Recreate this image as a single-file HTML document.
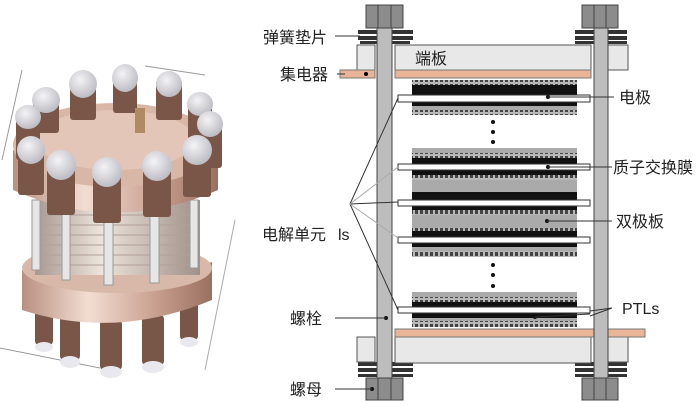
<!DOCTYPE html>
<html><head><meta charset="utf-8"><style>
html,body{margin:0;padding:0;background:#fff;}
svg{display:block;}
text{font-family:"Liberation Sans","Noto Sans CJK SC",sans-serif;fill:#222;}
</style></head><body>
<svg width="700" height="405" viewBox="0 0 700 405" xmlns="http://www.w3.org/2000/svg">
<defs>
<pattern id="rid" width="5" height="6" patternUnits="userSpaceOnUse">
<rect width="5" height="6" fill="#b8b8b8"/><rect x="0" y="0" width="3" height="4" fill="#444"/>
</pattern>
<linearGradient id="cu" x1="0" x2="1" y1="0" y2="0">
<stop offset="0" stop-color="#b89080"/><stop offset="0.35" stop-color="#f3ddd2"/><stop offset="0.7" stop-color="#c9a090"/><stop offset="1" stop-color="#9a7060"/>
</linearGradient>
<linearGradient id="stk" x1="0" x2="1"><stop offset="0" stop-color="#a89890"/><stop offset="0.4" stop-color="#ece4dc"/><stop offset="1" stop-color="#a09088"/></linearGradient>
<radialGradient id="cap" cx="0.4" cy="0.35" r="0.7"><stop offset="0" stop-color="#f4f4f6"/><stop offset="1" stop-color="#b8b8c0"/></radialGradient>
</defs>

<g>
<line x1="22" y1="70" x2="2" y2="160" stroke="#999" stroke-width="1"/>
<line x1="145" y1="66" x2="205" y2="75" stroke="#999"/>
<line x1="0" y1="348" x2="100" y2="368" stroke="#999"/>
<line x1="235" y1="220" x2="205" y2="370" stroke="#aaa"/>
<g fill="#7a5648">
<rect x="35" y="300" width="18" height="45" rx="4"/><rect x="60" y="315" width="20" height="45" rx="4"/>
<rect x="100" y="320" width="22" height="50" rx="4"/><rect x="142" y="315" width="22" height="50" rx="4"/>
<rect x="180" y="300" width="18" height="40" rx="4"/>
</g>
<g fill="#e8e8ee"><ellipse cx="44" cy="347" rx="9" ry="5"/><ellipse cx="70" cy="362" rx="10" ry="6"/><ellipse cx="111" cy="372" rx="11" ry="6"/><ellipse cx="153" cy="367" rx="11" ry="6"/><ellipse cx="189" cy="342" rx="9" ry="5"/></g>
<path d="M22 270 Q115 300 212 262 L212 300 Q115 340 22 310 Z" fill="url(#cu)"/>
<ellipse cx="117" cy="268" rx="95" ry="25" fill="#d8b8a8"/>
<rect x="35" y="200" width="165" height="75" fill="url(#stk)"/>
<g stroke="#b0a098" stroke-width="1">
<line x1="40" y1="215" x2="195" y2="215"/><line x1="40" y1="225" x2="195" y2="225"/><line x1="40" y1="235" x2="195" y2="235"/><line x1="40" y1="245" x2="195" y2="245"/><line x1="40" y1="255" x2="195" y2="255"/><line x1="40" y1="265" x2="195" y2="265"/></g>
<g fill="#e6e6e6" stroke="#999"><rect x="32" y="200" width="8" height="70"/><rect x="62" y="205" width="8" height="75"/><rect x="104" y="210" width="9" height="75"/><rect x="150" y="208" width="9" height="75"/><rect x="190" y="200" width="8" height="68"/></g>
<path d="M13 150 Q115 195 218 150 L218 190 Q115 235 13 190 Z" fill="url(#cu)"/>
<ellipse cx="115" cy="145" rx="102" ry="42" fill="#d9b7a6"/>
<ellipse cx="115" cy="140" rx="80" ry="30" fill="#e4c6b8"/>
<g fill="#7a5648">
<rect x="33" y="95" width="26" height="38" rx="3"/><rect x="70" y="80" width="26" height="40" rx="3"/><rect x="113" y="75" width="24" height="38" rx="3"/><rect x="156" y="80" width="26" height="40" rx="3"/><rect x="188" y="100" width="24" height="40" rx="3"/>
<rect x="16" y="110" width="24" height="50" rx="3"/><rect x="200" y="118" width="22" height="50" rx="3"/>
<rect x="18" y="145" width="26" height="50" rx="3"/><rect x="47" y="160" width="28" height="55" rx="3"/><rect x="93" y="168" width="28" height="55" rx="3"/><rect x="143" y="162" width="28" height="55" rx="3"/><rect x="183" y="145" width="28" height="52" rx="3"/>
</g>
<g fill="url(#cap)">
<ellipse cx="46" cy="100" rx="14" ry="13"/><ellipse cx="83" cy="84" rx="14" ry="14"/><ellipse cx="125" cy="78" rx="13" ry="14"/><ellipse cx="169" cy="84" rx="13" ry="13"/><ellipse cx="200" cy="104" rx="13" ry="12"/>
<ellipse cx="28" cy="117" rx="13" ry="12"/><ellipse cx="210" cy="124" rx="13" ry="13"/>
<ellipse cx="31" cy="150" rx="14" ry="14"/><ellipse cx="61" cy="165" rx="15" ry="15"/><ellipse cx="107" cy="172" rx="15" ry="15"/><ellipse cx="157" cy="166" rx="15" ry="15"/><ellipse cx="197" cy="150" rx="15" ry="15"/>
</g>
<rect x="135" y="108" width="10" height="25" fill="#b08a60"/>
</g>

<g stroke="#444" stroke-width="1">
<rect x="366" y="5" width="37" height="23" fill="#8c8c8c"/><line x1="378" y1="5" x2="378" y2="28"/><line x1="391" y1="5" x2="391" y2="28"/>
<rect x="582" y="5" width="36" height="23" fill="#8c8c8c"/><line x1="594" y1="5" x2="594" y2="28"/><line x1="606" y1="5" x2="606" y2="28"/>
<rect x="366" y="378" width="37" height="22" fill="#8c8c8c"/><line x1="378" y1="378" x2="378" y2="400"/><line x1="391" y1="378" x2="391" y2="400"/>
<rect x="582" y="378" width="36" height="22" fill="#8c8c8c"/><line x1="594" y1="378" x2="594" y2="400"/><line x1="606" y1="378" x2="606" y2="400"/>
</g>
<g fill="#333">
<rect x="358" y="30" width="55" height="4"/><rect x="358" y="36" width="55" height="4"/><rect x="360" y="41" width="50" height="3"/>
<rect x="575" y="30" width="52" height="4"/><rect x="575" y="36" width="52" height="4"/><rect x="575" y="41" width="52" height="3"/>
<rect x="358" y="362" width="55" height="4"/><rect x="358" y="368" width="55" height="4"/><rect x="358" y="374" width="55" height="3"/>
<rect x="575" y="362" width="52" height="4"/><rect x="575" y="368" width="52" height="4"/><rect x="575" y="374" width="52" height="3"/>
</g>
<g stroke="#555" fill="#e8e8e8">
<rect x="357" y="45" width="18" height="25"/><rect x="608" y="45" width="20" height="25"/>
<rect x="357" y="337" width="18" height="25"/><rect x="608" y="337" width="20" height="25"/>
<rect x="395" y="45" width="196" height="25"/>
<rect x="395" y="336" width="196" height="27"/>
</g>
<g fill="#eab497" stroke="#777">
<rect x="340" y="70" width="35" height="8"/><rect x="395" y="70" width="196" height="8"/>
<rect x="395" y="329" width="250" height="8"/>
</g>
<circle cx="366" cy="74" r="2" fill="#000"/>
<rect x="377" y="28" width="15" height="350" fill="#bdbdbd" stroke="#444"/>
<rect x="594" y="28" width="14" height="350" fill="#bdbdbd" stroke="#444"/>

<g>
<rect x="412" y="80" width="165" height="5" fill="url(#rid)"/>
<rect x="412" y="85" width="165" height="10" fill="#111"/>
<rect x="412" y="102" width="165" height="4" fill="#111"/>
<rect x="412" y="106" width="165" height="4" fill="#aaa"/>
<rect x="412" y="110" width="165" height="5" fill="url(#rid)"/>

<rect x="412" y="148" width="165" height="5" fill="#aaa"/>
<rect x="412" y="153" width="165" height="5" fill="url(#rid)"/>
<rect x="412" y="158" width="165" height="6" fill="#111"/>
<rect x="412" y="170" width="165" height="5" fill="#111"/>
<rect x="412" y="175" width="165" height="5" fill="url(#rid)"/>
<rect x="412" y="180" width="165" height="12" fill="#aaa"/>
<rect x="412" y="192" width="165" height="8" fill="#111"/>
<rect x="412" y="206" width="165" height="4" fill="#111"/>
<rect x="412" y="210" width="165" height="5" fill="url(#rid)"/>
<rect x="412" y="215" width="165" height="13" fill="#aaa"/>
<rect x="412" y="228" width="165" height="3" fill="url(#rid)"/>
<rect x="412" y="231" width="165" height="6" fill="#111"/>
<rect x="412" y="243" width="165" height="4" fill="#111"/>
<rect x="412" y="247" width="165" height="4" fill="#aaa"/>
<rect x="412" y="251" width="165" height="6" fill="url(#rid)"/>

<rect x="412" y="292" width="165" height="5" fill="#aaa"/>
<rect x="412" y="297" width="165" height="5" fill="url(#rid)"/>
<rect x="412" y="302" width="165" height="5" fill="#111"/>
<rect x="412" y="313" width="165" height="5" fill="#111"/>
<rect x="412" y="318" width="165" height="3" fill="#aaa"/>
<rect x="412" y="321" width="165" height="6" fill="url(#rid)"/>
</g>
<g fill="#fff" stroke="#333">
<rect x="398" y="95" width="192" height="7"/>
<rect x="398" y="164" width="192" height="6"/>
<rect x="398" y="200" width="192" height="6"/>
<rect x="398" y="237" width="192" height="6"/>
<rect x="398" y="307" width="192" height="6"/>
</g>
<g fill="#111">
<circle cx="493" cy="122" r="2"/><circle cx="493" cy="132" r="2"/><circle cx="493" cy="142" r="2"/>
<circle cx="493" cy="265" r="2"/><circle cx="493" cy="275" r="2"/><circle cx="493" cy="286" r="2"/>
<circle cx="548" cy="97" r="2"/><circle cx="548" cy="167" r="2"/><circle cx="547" cy="221" r="2"/><circle cx="535" cy="317" r="2"/>
<circle cx="386" cy="318" r="2"/><circle cx="372" cy="389" r="2"/>
</g>

<g stroke="#333" stroke-width="1" fill="none">
<line x1="335" y1="36" x2="360" y2="36"/>
<line x1="337" y1="74" x2="345" y2="74"/>
<line x1="548" y1="97" x2="614" y2="97"/>
<line x1="548" y1="167" x2="612" y2="167"/>
<line x1="547" y1="221" x2="612" y2="221"/>
<line x1="535" y1="317" x2="590" y2="314"/>
<polyline points="590,311 612,308 590,316"/>
<line x1="335" y1="318" x2="386" y2="318"/>
<line x1="335" y1="389" x2="372" y2="389"/>
<line x1="350" y1="204" x2="398" y2="98"/>
<line x1="350" y1="204" x2="398" y2="310"/>
<line x1="350" y1="204" x2="398" y2="202"/>
</g>
<g stroke="#aaa" stroke-width="1">
<line x1="350" y1="204" x2="398" y2="167"/>
<line x1="350" y1="204" x2="398" y2="238"/>
</g>

<g font-size="16">
<text x="263" y="43">弹簧垫片</text>
<text x="280" y="80">集电器</text>
<text x="415" y="64">端板</text>
<text x="619" y="103">电极</text>
<text x="613" y="173">质子交换膜</text>
<text x="262" y="240">电解单元</text>
<text x="338" y="240" fill="#999">ls</text>
<text x="616" y="227">双极板</text>
<text x="622" y="314">PTLs</text>
<text x="290" y="324">螺栓</text>
<text x="290" y="395">螺母</text>
</g>
</svg>
</body></html>
